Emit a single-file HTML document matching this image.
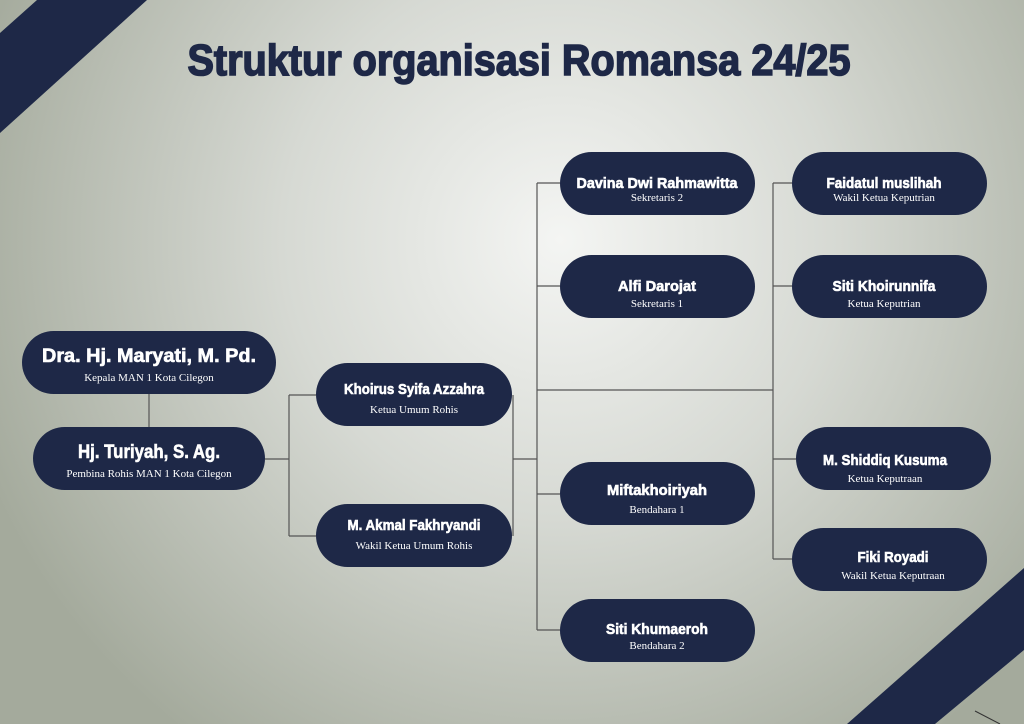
<!DOCTYPE html>
<html><head><meta charset="utf-8"><style>
html,body{margin:0;padding:0;width:1024px;height:724px;overflow:hidden}
svg{display:block}
.n{font-family:"Liberation Sans",sans-serif;font-weight:bold;fill:#fff;stroke:#fff;stroke-width:0.6;text-anchor:middle}
.s{font-family:"Liberation Serif",serif;font-weight:normal;fill:#fff;text-anchor:middle;font-size:11px}
</style></head><body>
<svg width="1024" height="724" viewBox="0 0 1024 724" xmlns="http://www.w3.org/2000/svg">
<defs>
<radialGradient id="bg" cx="560" cy="240" r="620" gradientUnits="userSpaceOnUse">
<stop offset="0" stop-color="#f4f5f3"/>
<stop offset="0.45" stop-color="#d6d9d3"/>
<stop offset="1" stop-color="#a4aa9c"/>
</radialGradient>
</defs>
<rect width="1024" height="724" fill="url(#bg)"/>
<polygon points="37,0 147,0 0,133 0,33" fill="#1e2847"/>
<polygon points="1024,568 1024,650 935,724 847,724" fill="#1e2847"/>
<line x1="975" y1="711" x2="1000" y2="724" stroke="#333" stroke-width="1"/>
<text x="519" y="75" textLength="663" lengthAdjust="spacingAndGlyphs" font-family="Liberation Sans, sans-serif" font-weight="bold" font-size="44" fill="#1e2847" stroke="#1e2847" stroke-width="1.6" text-anchor="middle">Struktur organisasi Romansa 24/25</text>
<g stroke="#555" stroke-width="1.2" fill="none">
<line x1="149" y1="394" x2="149" y2="427"/>
<line x1="265" y1="459" x2="289" y2="459"/>
<line x1="289" y1="395" x2="289" y2="536"/>
<line x1="289" y1="395" x2="316" y2="395"/>
<line x1="289" y1="536" x2="316" y2="536"/>
<line x1="513" y1="395" x2="513" y2="536"/>
<line x1="513" y1="459" x2="537" y2="459"/>
<line x1="537" y1="183" x2="537" y2="630"/>
<line x1="537" y1="183" x2="560" y2="183"/>
<line x1="537" y1="286" x2="560" y2="286"/>
<line x1="537" y1="494" x2="560" y2="494"/>
<line x1="537" y1="630" x2="560" y2="630"/>
<line x1="537" y1="390" x2="773" y2="390"/>
<line x1="773" y1="183" x2="773" y2="559"/>
<line x1="773" y1="183" x2="792" y2="183"/>
<line x1="773" y1="286" x2="792" y2="286"/>
<line x1="773" y1="459" x2="796" y2="459"/>
<line x1="773" y1="559" x2="792" y2="559"/>
</g>
<g fill="#1e2847">
<rect x="22" y="331" width="254" height="63" rx="31.5"/>
<rect x="33" y="427" width="232" height="63" rx="31.5"/>
<rect x="316" y="363" width="196" height="63" rx="31.5"/>
<rect x="316" y="504" width="196" height="63" rx="31.5"/>
<rect x="560" y="152" width="195" height="63" rx="31.5"/>
<rect x="560" y="255" width="195" height="63" rx="31.5"/>
<rect x="560" y="462" width="195" height="63" rx="31.5"/>
<rect x="560" y="599" width="195" height="63" rx="31.5"/>
<rect x="792" y="152" width="195" height="63" rx="31.5"/>
<rect x="792" y="255" width="195" height="63" rx="31.5"/>
<rect x="796" y="427" width="195" height="63" rx="31.5"/>
<rect x="792" y="528" width="195" height="63" rx="31.5"/>
</g>
<text class="n" x="149" y="362" font-size="19" textLength="214" lengthAdjust="spacingAndGlyphs">Dra. Hj. Maryati, M. Pd.</text>
<text class="s" x="149" y="381">Kepala MAN 1 Kota Cilegon</text>
<text class="n" x="149" y="458" font-size="19" textLength="142" lengthAdjust="spacingAndGlyphs">Hj. Turiyah, S. Ag.</text>
<text class="s" x="149" y="477">Pembina Rohis MAN 1 Kota Cilegon</text>
<text class="n" x="414" y="394" font-size="15" textLength="140" lengthAdjust="spacingAndGlyphs">Khoirus Syifa Azzahra</text>
<text class="s" x="414" y="413">Ketua Umum Rohis</text>
<text class="n" x="414" y="530" font-size="15" textLength="133" lengthAdjust="spacingAndGlyphs">M. Akmal Fakhryandi</text>
<text class="s" x="414" y="549">Wakil Ketua Umum Rohis</text>
<text class="n" x="657" y="188" font-size="15" textLength="161" lengthAdjust="spacingAndGlyphs">Davina Dwi Rahmawitta</text>
<text class="s" x="657" y="201">Sekretaris 2</text>
<text class="n" x="657" y="291" font-size="15" textLength="78" lengthAdjust="spacingAndGlyphs">Alfi Darojat</text>
<text class="s" x="657" y="307">Sekretaris 1</text>
<text class="n" x="657" y="495" font-size="15" textLength="100" lengthAdjust="spacingAndGlyphs">Miftakhoiriyah</text>
<text class="s" x="657" y="513">Bendahara 1</text>
<text class="n" x="657" y="634" font-size="15" textLength="102" lengthAdjust="spacingAndGlyphs">Siti Khumaeroh</text>
<text class="s" x="657" y="649">Bendahara 2</text>
<text class="n" x="884" y="188" font-size="15" textLength="115" lengthAdjust="spacingAndGlyphs">Faidatul muslihah</text>
<text class="s" x="884" y="201">Wakil Ketua Keputrian</text>
<text class="n" x="884" y="291" font-size="15" textLength="103" lengthAdjust="spacingAndGlyphs">Siti Khoirunnifa</text>
<text class="s" x="884" y="307">Ketua Keputrian</text>
<text class="n" x="885" y="465" font-size="15" textLength="124" lengthAdjust="spacingAndGlyphs">M. Shiddiq Kusuma</text>
<text class="s" x="885" y="482">Ketua Keputraan</text>
<text class="n" x="893" y="562" font-size="15" textLength="71" lengthAdjust="spacingAndGlyphs">Fiki Royadi</text>
<text class="s" x="893" y="579">Wakil Ketua Keputraan</text>
</svg>
</body></html>
